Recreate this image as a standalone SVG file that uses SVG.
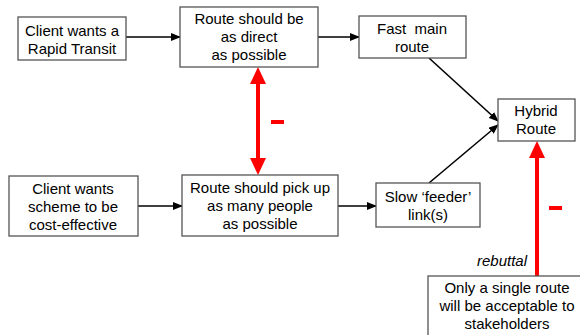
<svg xmlns="http://www.w3.org/2000/svg" width="580" height="335" viewBox="0 0 580 335">
<style>
.box{fill:#fff;stroke:#555;stroke-width:1.3}
text{font-family:"Liberation Sans",Arial,sans-serif;font-size:15px;fill:#000;text-anchor:middle}
.blk{stroke:#000;stroke-width:1.6;fill:none}
.red{stroke:#f00;stroke-width:4;fill:none}
</style>
<defs>
<marker id="ah" markerWidth="10" markerHeight="8" refX="9" refY="4" orient="auto" markerUnits="userSpaceOnUse"><path d="M0,0 L10,4 L0,8 Z" fill="#000"/></marker>
</defs>
<rect width="580" height="335" fill="#fff"/>
<g id="connectors">
<line class="blk" x1="126" y1="37" x2="180" y2="37" marker-end="url(#ah)"/>
<line class="blk" x1="318" y1="37" x2="359" y2="37" marker-end="url(#ah)"/>
<line class="blk" x1="429" y1="58" x2="498" y2="121" marker-end="url(#ah)"/>
<line class="blk" x1="429" y1="183" x2="498" y2="125" marker-end="url(#ah)"/>
<line class="blk" x1="138" y1="206" x2="182" y2="206" marker-end="url(#ah)"/>
<line class="blk" x1="338" y1="206" x2="376" y2="206" marker-end="url(#ah)"/>
<line class="red" x1="258" y1="82" x2="258" y2="160"/>
<path d="M258,67 L250,84 L266,84 Z" fill="#f00"/>
<path d="M258,175 L250,158 L266,158 Z" fill="#f00"/>
<line class="red" x1="537" y1="156" x2="537" y2="276"/>
<path d="M537,141 L529,158 L545,158 Z" fill="#f00"/>
<line class="red" x1="271" y1="122" x2="284" y2="122"/>
<line class="red" x1="549" y1="208" x2="562" y2="208"/>
</g>
<g id="n1"><rect class="box" x="18" y="17" width="108" height="43"/><text x="72" y="36">Client wants a</text><text x="72" y="54">Rapid Transit</text></g>
<g id="n2"><rect class="box" x="180" y="7" width="138" height="60"/><text x="249" y="24">Route should be</text><text x="249" y="42">as direct</text><text x="249" y="60">as possible</text></g>
<g id="n3"><rect class="box" x="359" y="16" width="107" height="42"/><text x="412" y="34" xml:space="preserve">Fast  main</text><text x="412" y="52">route</text></g>
<g id="n4"><rect class="box" x="498" y="99" width="77" height="42"/><text x="536" y="116">Hybrid</text><text x="536" y="134">Route</text></g>
<g id="n5"><rect class="box" x="9" y="176" width="129" height="60"/><text x="73" y="194">Client wants</text><text x="73" y="212">scheme to be</text><text x="73" y="230">cost-effective</text></g>
<g id="n6"><rect class="box" x="182" y="175" width="156" height="61"/><text x="260" y="193">Route should pick up</text><text x="260" y="211">as many people</text><text x="260" y="229">as possible</text></g>
<g id="n7"><rect class="box" x="376" y="183" width="104" height="44"/><text x="428" y="202">Slow ‘feeder’</text><text x="428" y="220">link(s)</text></g>
<g id="n8"><rect class="box" x="428" y="276" width="160" height="70"/><text x="507" y="293">Only a single route</text><text x="507" y="311">will be acceptable to</text><text x="507" y="329">stakeholders</text></g>
<text x="502" y="266" font-style="italic" font-size="14">rebuttal</text>
</svg>
